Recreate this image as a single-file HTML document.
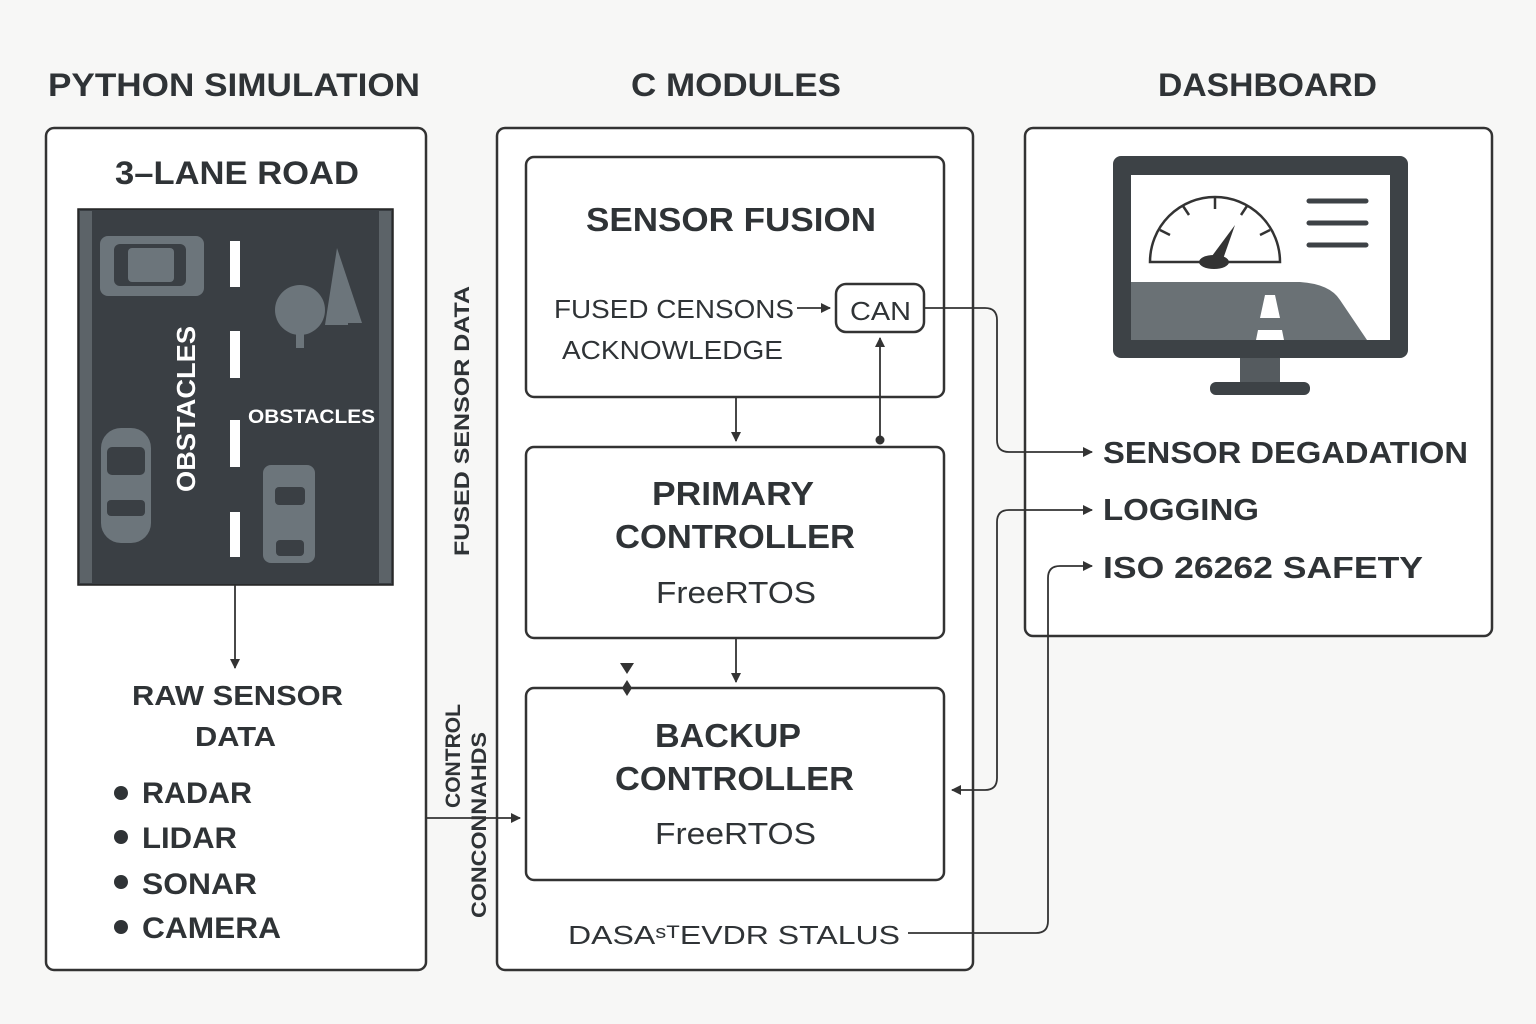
<!DOCTYPE html>
<html><head><meta charset="utf-8"><style>
html,body{margin:0;padding:0;background:#f7f7f6;}
svg{display:block;font-family:"Liberation Sans",sans-serif;}
</style></head><body>
<svg width="1536" height="1024" viewBox="0 0 1536 1024">
<defs>
<marker id="ah" markerWidth="10" markerHeight="10" refX="9" refY="5" orient="auto" markerUnits="userSpaceOnUse"><path d="M0,0 L10,5 L0,10 Z" fill="#333"/></marker>
</defs>
<rect width="1536" height="1024" fill="#f7f7f6"/>
<g fill="#2f3336" font-weight="bold" font-size="32">
<text x="48" y="96" textLength="372" lengthAdjust="spacingAndGlyphs">PYTHON SIMULATION</text>
<text x="631" y="96" textLength="210" lengthAdjust="spacingAndGlyphs">C MODULES</text>
<text x="1158" y="96" textLength="219" lengthAdjust="spacingAndGlyphs">DASHBOARD</text>
</g>
<g fill="#fff" stroke="#333" stroke-width="2.5">
<rect x="46" y="128" width="380" height="842" rx="8"/>
<rect x="497" y="128" width="476" height="842" rx="8"/>
<rect x="1025" y="128" width="467" height="508" rx="8"/>
<rect x="526" y="157" width="418" height="240" rx="8"/>
<rect x="526" y="447" width="418" height="191" rx="8"/>
<rect x="526" y="688" width="418" height="192" rx="8"/>
<rect x="836" y="284" width="88" height="48" rx="10"/>
</g>
<text x="115" y="184" font-size="32" font-weight="bold" fill="#2f3336" textLength="244" lengthAdjust="spacingAndGlyphs">3–LANE ROAD</text>
<!-- road -->
<rect x="78" y="209" width="315" height="376" fill="#3a3f44" stroke="#222" stroke-width="1.5"/>
<rect x="80" y="211" width="12" height="372" fill="#5c6368"/>
<rect x="379" y="211" width="12" height="372" fill="#5c6368"/>
<g fill="#fff"><rect x="230" y="241" width="10" height="46"/><rect x="230" y="331" width="10" height="47"/><rect x="230" y="420" width="10" height="47"/><rect x="230" y="512" width="10" height="45"/></g>
<g fill="#6c757b">
<rect x="100" y="236" width="104" height="60" rx="8"/>
<rect x="101" y="428" width="50" height="115" rx="20"/>
<rect x="263" y="465" width="52" height="98" rx="8"/>
<circle cx="300" cy="310" r="25"/><rect x="296" y="330" width="8" height="18"/>
<path d="M337,248 L362,323 L348,323 L348,325 L325,325 Z"/>
</g>
<g fill="#3a3f44"><rect x="114" y="244" width="72" height="42" rx="6"/><rect x="107" y="447" width="38" height="28" rx="5"/><rect x="107" y="500" width="38" height="16" rx="4"/><rect x="275" y="487" width="30" height="18" rx="4"/><rect x="276" y="540" width="28" height="16" rx="4"/></g>
<rect x="128" y="248" width="46" height="34" rx="4" fill="#6c757b"/>
<text transform="translate(195,492) rotate(-90)" font-size="26" font-weight="bold" fill="#fff" textLength="166" lengthAdjust="spacingAndGlyphs">OBSTACLES</text>
<text x="248" y="423" font-size="19" font-weight="bold" fill="#fff" textLength="127" lengthAdjust="spacingAndGlyphs">OBSTACLES</text>
<!-- left texts -->
<g fill="#2f3336" font-size="28" font-weight="bold">
<text x="132" y="705" textLength="211" lengthAdjust="spacingAndGlyphs">RAW SENSOR</text><text x="195" y="746" textLength="81" lengthAdjust="spacingAndGlyphs">DATA</text>
</g>
<g fill="#2f3336" font-size="30" font-weight="bold">
<text x="142" y="803" textLength="110" lengthAdjust="spacingAndGlyphs">RADAR</text><text x="142" y="848" textLength="95" lengthAdjust="spacingAndGlyphs">LIDAR</text><text x="142" y="894" textLength="115" lengthAdjust="spacingAndGlyphs">SONAR</text><text x="142" y="938" textLength="139" lengthAdjust="spacingAndGlyphs">CAMERA</text>
</g>
<g fill="#2f3336"><circle cx="121" cy="793" r="7"/><circle cx="121" cy="837" r="7"/><circle cx="121" cy="882" r="7"/><circle cx="121" cy="927" r="7"/></g>
<g fill="#2f3336" font-size="21" font-weight="bold">
<text transform="translate(469,556) rotate(-90)" textLength="270" lengthAdjust="spacingAndGlyphs">FUSED SENSOR DATA</text>
<text transform="translate(460,808) rotate(-90)" textLength="104" lengthAdjust="spacingAndGlyphs">CONTROL</text>
<text transform="translate(486,918) rotate(-90)" textLength="186" lengthAdjust="spacingAndGlyphs">CONCONNAHDS</text>
</g>
<!-- middle texts -->
<g fill="#2f3336" font-weight="bold" font-size="33">
<text x="586" y="231" textLength="290" lengthAdjust="spacingAndGlyphs">SENSOR FUSION</text>
<text x="652" y="505" textLength="162" lengthAdjust="spacingAndGlyphs">PRIMARY</text><text x="615" y="548" textLength="240" lengthAdjust="spacingAndGlyphs">CONTROLLER</text>
<text x="655" y="747" textLength="146" lengthAdjust="spacingAndGlyphs">BACKUP</text><text x="615" y="790" textLength="239" lengthAdjust="spacingAndGlyphs">CONTROLLER</text>
</g>
<g fill="#2f3336" font-size="31">
<text x="656" y="603" textLength="160" lengthAdjust="spacingAndGlyphs">FreeRTOS</text><text x="655" y="844" textLength="161" lengthAdjust="spacingAndGlyphs">FreeRTOS</text>
</g>
<g fill="#2f3336" font-size="26">
<text x="554" y="318" textLength="240" lengthAdjust="spacingAndGlyphs">FUSED CENSONS</text>
<text x="562" y="359" textLength="221" lengthAdjust="spacingAndGlyphs">ACKNOWLEDGE</text>
<text x="850" y="320" textLength="61" lengthAdjust="spacingAndGlyphs">CAN</text>
<text x="568" y="944" textLength="332" lengthAdjust="spacingAndGlyphs">DASAˢᵀEVDR STALUS</text>
</g>
<g fill="#2f3336" font-size="31" font-weight="bold">
<text x="1103" y="463" textLength="365" lengthAdjust="spacingAndGlyphs">SENSOR DEGADATION</text>
<text x="1103" y="520" textLength="156" lengthAdjust="spacingAndGlyphs">LOGGING</text>
<text x="1103" y="578" textLength="320" lengthAdjust="spacingAndGlyphs">ISO 26262 SAFETY</text>
</g>
<!-- monitor -->
<rect x="1113" y="156" width="295" height="202" rx="8" fill="#3d4246"/>
<rect x="1131" y="175" width="259" height="165" fill="#fff"/>
<path d="M1131,282 L1300,282 Q1330,284 1340,300 L1367,340 L1131,340 Z" fill="#6a7175"/>
<path d="M1265,295 L1275,295 L1280,318 L1260,318 Z M1258,330 L1282,330 L1284,340 L1256,340 Z" fill="#fff"/>
<rect x="1240" y="358" width="40" height="26" fill="#555b5f"/>
<rect x="1210" y="382" width="100" height="13" rx="6" fill="#3d4246"/>
<path d="M1150,262 A65,65 0 0 1 1280,262 Z" fill="none" stroke="#333" stroke-width="2.5"/>
<path d="M1215,197 v12 M1183,206 l6,9 M1160,230 l10,5 M1247,206 l-6,9 M1270,230 l-10,5" stroke="#333" stroke-width="2.5"/>
<path d="M1235,225 L1222,262 L1212,256 Z" fill="#333"/><ellipse cx="1214" cy="262" rx="15" ry="7" fill="#333"/>
<g stroke="#3d4246" stroke-width="5" stroke-linecap="round"><path d="M1309,201 h57 M1309,223 h57 M1309,245 h57"/></g>
<!-- connectors -->
<g fill="none" stroke="#333" stroke-width="1.8">
<path d="M235,585 V668" marker-end="url(#ah)"/>
<path d="M426,818 H520" marker-end="url(#ah)"/>
<path d="M736,397 V441" marker-end="url(#ah)"/>
<path d="M880,440 V338" marker-end="url(#ah)"/>
<path d="M797,308 H830" marker-end="url(#ah)"/>
<path d="M736,638 V682" marker-end="url(#ah)"/>
<path d="M924,308 H985 Q997,308 997,320 V440 Q997,452 1009,452 H1092" marker-end="url(#ah)"/>
<path d="M1009,510 Q997,510 997,522 V778 Q997,790 985,790 H952" marker-end="url(#ah)"/>
<path d="M1009,510 H1092" marker-end="url(#ah)"/>
<path d="M908,933 H1036 Q1048,933 1048,921 V578 Q1048,566 1060,566 H1092" marker-end="url(#ah)"/>
</g>
<circle cx="880" cy="440" r="4.5" fill="#333"/>
<path d="M620,663 L634,663 L627,674 Z M627,680 L632,688 L627,696 L622,688 Z" fill="#333"/>
</svg>
</body></html>
